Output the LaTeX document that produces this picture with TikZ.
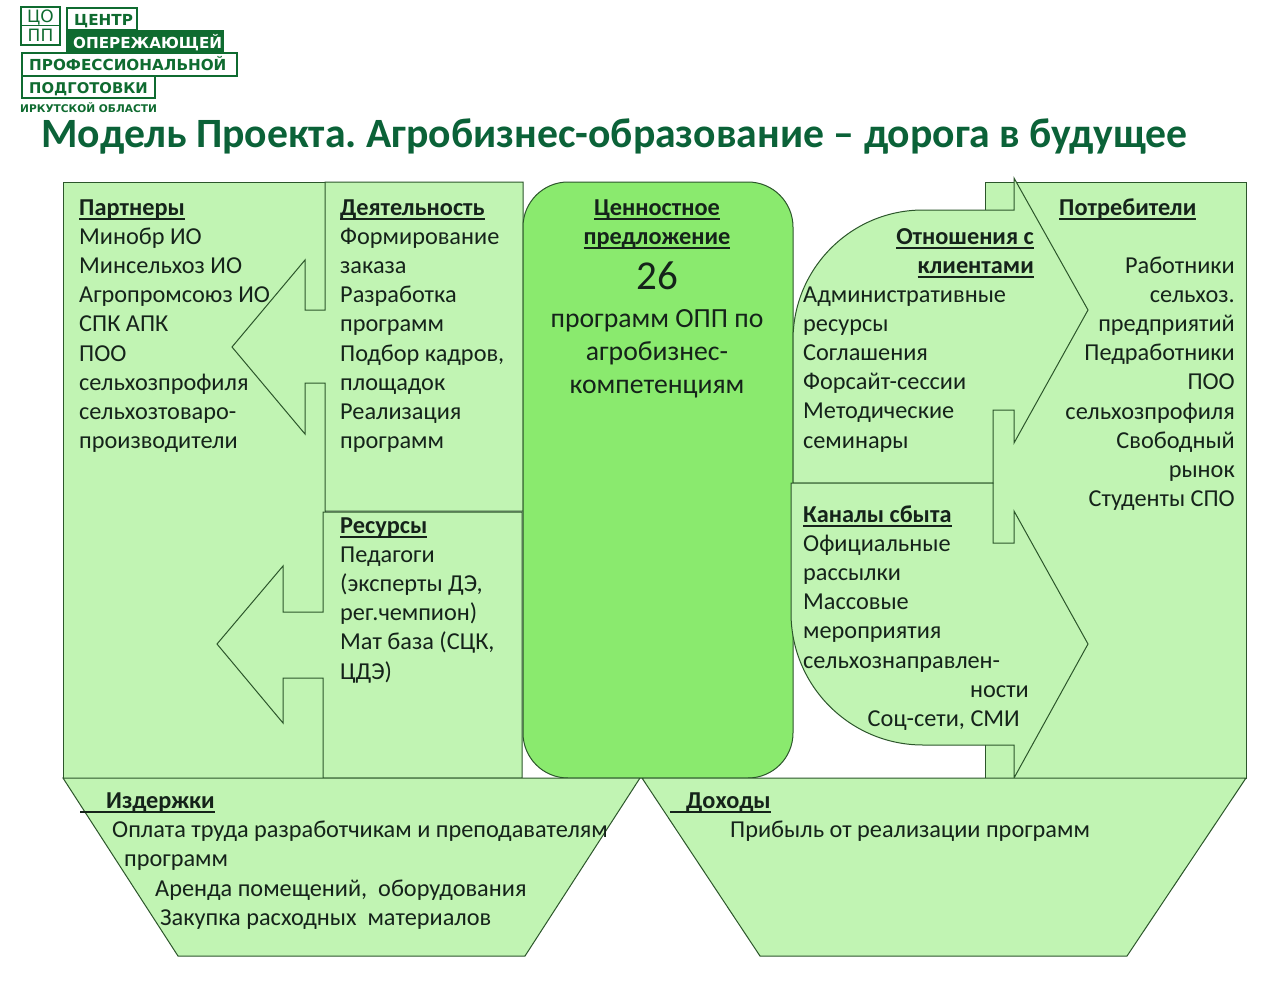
\documentclass[tikz,border=0pt]{standalone}
\usepackage{fontspec}
\setmainfont{Carlito}
\newfontfamily\logofont{DejaVu Sans}
\definecolor{vertclair}{HTML}{C1F4B3}
\definecolor{vertvif}{HTML}{8AEA6E}
\definecolor{trait}{HTML}{2C562B}
\definecolor{vertlogo}{HTML}{0F6B30}
\definecolor{vertitre}{HTML}{0B6238}
\definecolor{encre}{HTML}{15231A}
\newcommand\corps{\fontsize{24.3}{29.2}\selectfont\color{encre}}
\newcommand\souligne[2][0pt]{\leavevmode\setbox0\hbox{\hspace{#1}\textbf{#2}}\rlap{\rule[-4.5pt]{\wd0}{2pt}}\box0}
\frenchspacing
\begin{document}
\begin{tikzpicture}[x=1pt,y=-1pt]
\tikzset{forme/.style={draw=trait,line width=1pt,fill=#1},
forme/.default={vertclair},
bloc/.style={anchor=north west,inner sep=0pt,font=\corps,align=left,yshift=-0.8pt},
blocd/.style={anchor=north east,inner sep=0pt,font=\corps,align=right,yshift=-0.8pt},
central/.style={anchor=north,inner sep=0pt,align=center,text=encre,yshift=-0.8pt},
logo/.style={anchor=base west,inner sep=0pt,font=\logofont\bfseries\fontsize{15.2}{18}\selectfont,text=vertlogo},
sigle/.style={anchor=base,inner sep=0pt,font=\logofont\fontsize{17}{17}\selectfont,text=vertlogo},
cadre/.style={draw=vertlogo,line width=1.3pt}}
\useasboundingbox (0,0) rectangle (1280,985);
\fill[white] (0,0) rectangle (1280,985);

% logo
\draw[cadre] (21,7) rectangle (60,45);
\draw[cadre] (21,25.5) -- (60,25.5);
\node[sigle] (logoA) at (40.5,22.5){ЦО};
\node[sigle] (logoB) at (40.5,41.5){ПП};
\draw[cadre] (67,8) rectangle (137,30);
\fill[vertlogo] (66,30) rectangle (224,52);
\draw[cadre] (22,53) rectangle (237,76);
\draw[cadre] (22,76) rectangle (155,98);
\node[logo] (logoC) at (74,25){ЦЕНТР};
\node[logo,text=white] (logoD) at (73,48){ОПЕРЕЖАЮЩЕЙ};
\node[logo] (logoE) at (29,70){ПРОФЕССИОНАЛЬНОЙ};
\node[logo,font=\logofont\bfseries\fontsize{14.8}{18}\selectfont] (logoF) at (29,93){ПОДГОТОВКИ};
\node[logo,font=\logofont\bfseries\fontsize{10.6}{12}\selectfont] (logoG) at (20,112){ИРКУТСКОЙ ОБЛАСТИ};

\node[anchor=base west,inner sep=0pt,font=\bfseries\fontsize{41.7}{44}\selectfont,text=vertitre] (titre) at (41,147){Модель Проекта. Агробизнес-образование – дорога в будущее};

% blocs de gauche
\draw[forme] (63,182) rectangle (325,778);
\draw[forme] (523,182) -- (325,182) -- (325,310) -- (305,310) -- (305,260) -- (232,347) -- (305,434) -- (305,383) -- (325,383) -- (325,511) -- (523,511) -- cycle;
\draw[forme] (522,512) -- (323,512) -- (323,612) -- (283,612) -- (283,566) -- (217,644) -- (283,723) -- (283,678) -- (323,678) -- (323,778) -- (522,778) -- cycle;
\draw[forme=vertvif,rounded corners=45pt] (523,182) rectangle (793,778);

% blocs de droite
\draw[forme] (985,182) rectangle (1246,778);
\draw[forme] (793,340) arc (180:270:130) -- (1014,210) -- (1014,178) -- (1088,310) -- (1014,443) -- (1014,410) -- (993,410) -- (993,483) -- (793,483) -- cycle;
\draw[forme] (791,483) -- (993,483) -- (993,543) -- (1014,543) -- (1014,511) -- (1088,644) -- (1014,778) -- (1014,745) -- (923,745) arc (90:180:132) -- cycle;

% bas
\draw[forme] (63,778) -- (640,778) -- (525,956) -- (178,956) -- cycle;
\draw[forme] (642,778) -- (1246,778) -- (1127,956) -- (760,956) -- cycle;

% textes
\node[bloc] (partenaires) at (79,193.6){\strut\souligne{Партнеры}\\Минобр ИО\\Минсельхоз ИО\\Агропромсоюз ИО\\СПК АПК\\ПОО\\сельхозпрофиля\\сельхозтоваро-\\производители};
\node[bloc] (activite) at (340,193.6){\strut\souligne{Деятельность}\\Формирование\\заказа\\Разработка\\программ\\Подбор кадров,\\площадок\\Реализация\\программ};
\node[bloc] (ressources) at (340,511.6){\strut\souligne{Ресурсы}\\Педагоги\\(эксперты ДЭ,\\рег.чемпион)\\Мат база (СЦК,\\ЦДЭ)};
\node[central,font=\corps] (valeur) at (657,193.6){\strut\souligne{Ценностное}\\\souligne{предложение}};
\node[central,font=\fontsize{41}{44}\selectfont] (nombre) at (657,261){26};
\node[central,font=\fontsize{27.7}{33}\selectfont\color{encre}] (programmes) at (657,303){\strut программ ОПП по\\агробизнес-\\компетенциям};
\node[blocd] (relations) at (1034,222.6){\strut\souligne{Отношения с}\\\souligne{клиентами}};
\node[bloc] (relationsB) at (803,280.6){\strut Административные\\ресурсы\\Соглашения\\Форсайт-сессии\\Методические\\семинары};
\node[bloc] (canaux) at (803,500.6){\strut\souligne{Каналы сбыта}\\Официальные\\рассылки\\Массовые\\мероприятия\\сельхознаправлен-};
\node[blocd] (canauxB) at (1029,675.6){\strut ности};
\node[blocd] (canauxC) at (1020,704.6){\strut Соц-сети, СМИ};
\node[bloc] (clients) at (1059,193.6){\strut\souligne{Потребители}};
\node[blocd] (clientsB) at (1235,251.6){\strut Работники\\сельхоз.\\предприятий\\Педработники\\ПОО\\сельхозпрофиля\\Свободный\\рынок\\Студенты СПО};
\node[bloc] (couts) at (80,786.6){\strut\souligne[26pt]{Издержки}};
\node[bloc] (coutsA) at (112,815.6){\strut Оплата труда разработчикам и преподавателям};
\node[bloc] (coutsB) at (124,844.6){\strut программ};
\node[bloc] (coutsC) at (155,874.6){\strut Аренда помещений,\ \ оборудования};
\node[bloc] (coutsD) at (160,903.6){\strut Закупка расходных\ \ материалов};
\node[bloc] (revenus) at (670,786.6){\strut\souligne[16pt]{Доходы}};
\node[bloc] (revenusA) at (730,815.6){\strut Прибыль от реализации программ};
\end{tikzpicture}
\end{document}
